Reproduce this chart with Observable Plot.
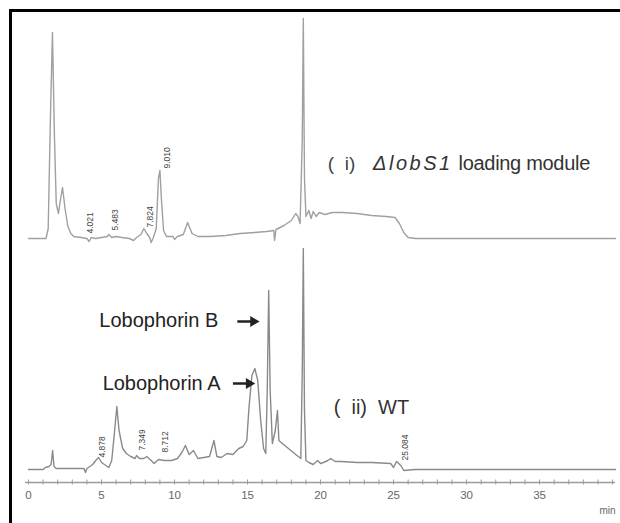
<!DOCTYPE html>
<html>
<head>
<meta charset="utf-8">
<script src="https://cdn.jsdelivr.net/npm/d3@7"></script>
<script src="https://cdn.jsdelivr.net/npm/@observablehq/plot@0.6"></script>
<style>
  html, body { margin: 0; padding: 0; background: #fff; overflow: hidden; }
  #wrap { position: relative; width: 620px; height: 523px; }
  #wrap svg { position: absolute; left: 0; top: 0; }
  #box { position: absolute; left: 9px; top: 9px; width: 700px; height: 600px;
         border-left: 3px solid #000; border-top: 3px solid #000; }
</style>
</head>
<body>
<div id="wrap"><div id="box"></div></div>
<script>
// ---- Data (retention time in min, detector response in arbitrary units above baseline) ----
const traceI = [ // (i) ΔlobS1 loading module
  [0,0],[1.2,0],[1.35,10],[1.5,120],[1.64,206],[1.78,100],[1.9,35],[2.05,25],[2.2,40],[2.33,51],
  [2.5,30],[2.7,12],[2.9,5],[3.1,2],[3.6,1],[4.0,0],[4.15,-3],[4.3,1],[4.6,0],[5.0,1],[5.4,2],
  [5.5,4],[5.7,1],[6.0,2],[6.4,1],[6.9,0],[7.2,-2],[7.4,1],[7.7,4],[7.9,10],[8.1,5],[8.3,1],
  [8.4,-4],[8.55,1],[8.75,10],[8.9,60],[9.0,68],[9.1,40],[9.25,8],[9.45,2],[9.9,2],[10.0,-1],
  [10.2,2],[10.6,4],[10.9,16],[11.2,5],[11.6,2],[12.5,2],[13.5,3],[14.5,5],[15.5,6],[16.3,7],
  [16.8,8],[16.85,-2],[16.95,9],[17.5,13],[18.0,18],[18.3,25],[18.45,22],[18.6,15],[18.75,100],
  [18.82,220],[18.9,60],[19.0,22],[19.2,28],[19.35,20],[19.5,27],[19.7,22],[19.9,26],[20.3,24],
  [20.8,26],[21.5,26],[22.5,25],[23.5,23],[24.5,22],[25.1,21],[25.4,15],[25.7,6],[26.0,1],
  [26.5,0],[40.2,0]
];
const traceII = [ // (ii) WT
  [0,1],[1.0,1],[1.15,3],[1.4,4],[1.55,6],[1.65,20],[1.75,4],[1.9,2],[3.8,2],[3.9,-2],[4.0,2],
  [4.4,6],[4.6,10],[4.8,13],[5.0,8],[5.3,5],[5.5,3],[5.7,10],[5.9,40],[6.05,64],[6.2,40],
  [6.45,22],[6.7,17],[7.0,14],[7.3,12],[7.4,15],[7.6,12],[7.9,12],[8.1,14],[8.4,10],[8.6,7],
  [8.9,11],[9.3,10],[9.8,10],[10.2,12],[10.5,18],[10.75,25],[11.0,16],[11.3,20],[11.6,12],
  [12.0,13],[12.4,14],[12.7,30],[12.9,14],[13.2,13],[13.6,17],[14.0,16],[14.4,22],[14.7,24],
  [14.95,30],[15.1,63],[15.3,95],[15.5,102],[15.7,90],[15.9,50],[16.1,22],[16.25,17],[16.35,80],
  [16.45,180],[16.55,80],[16.7,27],[16.9,40],[17.05,60],[17.15,30],[17.3,28],[17.8,22],[18.3,16],
  [18.65,12],[18.75,100],[18.82,222],[18.9,60],[19.0,10],[19.2,8],[19.5,6],[19.8,10],[20.0,7],
  [20.2,8],[20.5,10],[20.7,12],[21.0,9],[21.4,9],[22.5,8],[23.5,8],[24.8,7],[25.0,3],[25.2,9],
  [25.5,5],[25.7,0],[26.5,1],[40.2,1]
];
const traceIOffset = 232; // vertical stacking offset of trace (i)

// retention-time labels: [label, time, height]
const peakLabelsI = [["4.021",4.25,5],["5.483",5.96,8],["7.824",8.36,11],["9.010",9.5,70]];
const peakLabelsII = [["4.878",5.07,13],["7.349",7.8,20],["8.712",9.38,18],["25.084",25.8,10]];

const majorTicks = [0,5,10,15,20,25,30,35];
const minorTicks = d3.range(0, 41);

const compoundLabels = [["Lobophorin B",13.0,150],["Lobophorin A",13.15,87]];
const compoundArrows = [[14.3,15.6,149],[14.0,15.3,87]];

// ---- Chart ----
const I = traceI.map(([t,v]) => ({t, v: v + traceIOffset}));
const II = traceII.map(([t,v]) => ({t, v}));
const pl = [...peakLabelsI.map(([s,t,v]) => ({s,t,v: v + traceIOffset})),
            ...peakLabelsII.map(([s,t,v]) => ({s,t,v}))];
const font = "'Liberation Sans', Arial, sans-serif";

const chart = Plot.plot({
  width: 620, height: 523,
  marginLeft: 28, marginRight: 5, marginTop: 10, marginBottom: 41,
  x: {domain: [0, 40.2], axis: null},
  y: {domain: [-12, 460], axis: null},
  style: {fontFamily: font, background: "transparent", overflow: "visible"},
  marks: [
    Plot.ruleY([-12], {x1: -0.2, x2: 40.2, stroke: "#9a9a9a", strokeWidth: 1.4}),
    Plot.ruleX(minorTicks, {x: d => d, y1: -14.5, y2: -9.5, stroke: "#9a9a9a", strokeWidth: 1}),
    Plot.text(majorTicks, {x: d => d, y: -12, dy: 13, text: d => String(d), fill: "#666", fontSize: 11.5}),
    Plot.text(["min"], {x: 40.2, y: -12, dy: 28, textAnchor: "end", fill: "#666", fontSize: 10}),
    Plot.line(I, {x: "t", y: "v", stroke: "#a0a0a0", strokeWidth: 1.4}),
    Plot.line(II, {x: "t", y: "v", stroke: "#8a8a8a", strokeWidth: 1.4}),
    Plot.text(pl, {x: "t", y: "v", text: "s", rotate: -90, textAnchor: "start", fontSize: 8.5, fill: "#444"}),
    Plot.text(compoundLabels, {x: d => d[1], y: d => d[2], text: d => d[0], textAnchor: "end", fontSize: 20, fill: "#222"}),
    Plot.link(compoundArrows, {x1: d => d[0], x2: d => d[1] - 0.25, y1: d => d[2], y2: d => d[2], stroke: "#222", strokeWidth: 2.5}),
    Plot.dot(compoundArrows, {x: d => d[1] - 0.2, y: d => d[2], symbol: "triangle", rotate: 90, r: 4, fill: "#222", stroke: "none"}),
    Plot.text(["(  i)"], {x: 20.5, y: 307, textAnchor: "start", fontSize: 19, fill: "#444"}),
    Plot.text(["\u0394lobS1"], {x: 23.6, y: 307, textAnchor: "start", fontSize: 20, fontStyle: "italic", fill: "#333"}),
    Plot.text(["loading module"], {x: 29.45, y: 307, textAnchor: "start", fontSize: 20, fill: "#333"}),
    Plot.text(["(  ii)  WT"], {x: 20.9, y: 63, textAnchor: "start", fontSize: 20, fill: "#333"})
  ]
});
d3.select(chart).selectAll("text").filter(function() { return this.textContent === "\u0394lobS1"; })
  .attr("letter-spacing", "2.5px");
d3.select(chart).selectAll("text").filter(function() { return this.textContent === "loading module"; })
  .attr("letter-spacing", "-0.3px");
document.getElementById("wrap").prepend(chart);
</script>
</body>
</html>
